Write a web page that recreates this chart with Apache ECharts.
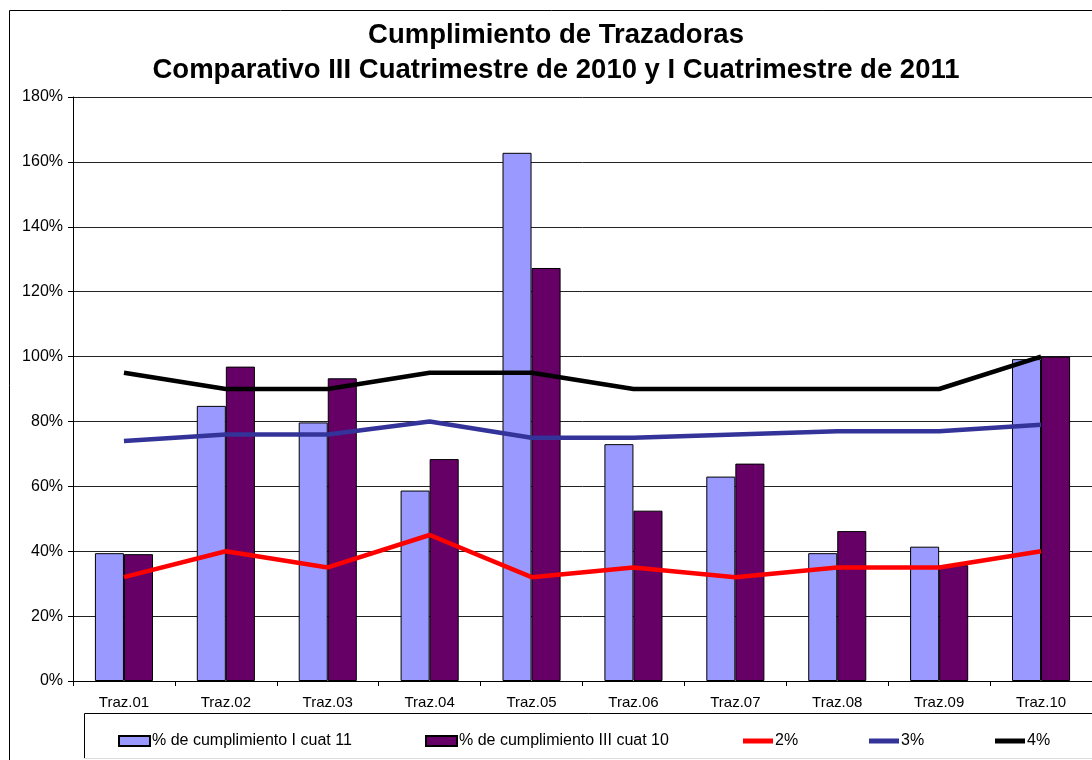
<!DOCTYPE html>
<html>
<head>
<meta charset="utf-8">
<script src="https://cdn.jsdelivr.net/npm/echarts@6/dist/echarts.min.js"></script>
<style>
  html, body { margin: 0; padding: 0; background: #fff; }
  #chart { width: 1092px; height: 760px; }
</style>
</head>
<body>
<div id="chart"></div>
<script>
// data
const categories = ['Traz.01', 'Traz.02', 'Traz.03', 'Traz.04', 'Traz.05', 'Traz.06', 'Traz.07', 'Traz.08', 'Traz.09', 'Traz.10'];
const cumplI11 = [39.4, 84.8, 79.7, 58.7, 162.8, 73.0, 63.0, 39.4, 41.4, 99.2];
const cumplIII10 = [39.1, 96.9, 93.3, 68.4, 127.3, 52.5, 67.0, 46.2, 35.7, 100];
const line2 = [32, 40, 35, 45, 32, 35, 32, 35, 35, 40];
const line3 = [74, 76, 76, 80, 75, 75, 76, 77, 77, 79];
const line4 = [95, 90, 90, 95, 95, 90, 90, 90, 90, 100];
const yTicks = [0, 20, 40, 60, 80, 100, 120, 140, 160, 180];

const names = ['% de cumplimiento I cuat 11', '% de cumplimiento III cuat 10', '2%', '3%', '4%'];
const font = 'Liberation Sans, Arial, sans-serif';

let chart = echarts.init(document.getElementById('chart'));

// one legend per item so each sits where it does in the picture
function legendAt(left, name, isLine) {
    return {
        left: left,
        top: 733,
        padding: 0,
        icon: 'rect',
        itemWidth: isLine ? 30 : 31,
        itemHeight: isLine ? 5 : 10,
        selectedMode: false,
        data: [name],
        textStyle: { fontFamily: font, fontSize: 16, color: '#000', padding: [0, 0, 0, -3] }
    };
}

chart.setOption({
    animation: false,
    title: {
        text: 'Cumplimiento de Trazadoras\nComparativo III Cuatrimestre de 2010 y I Cuatrimestre de 2011',
        left: 556,
        top: 18,
        padding: 0,
        textAlign: 'center',
        textStyle: { fontFamily: font, fontSize: 27.5, fontWeight: 'bold', color: '#000', lineHeight: 35 }
    },
    graphic: [
        // outer chart frame
        { type: 'polyline', shape: { points: [[9.5, 770], [9.5, 10.5], [1100, 10.5]] }, style: { stroke: '#000', lineWidth: 1, fill: null }, silent: true },
        // legend box
        { type: 'polyline', shape: { points: [[84.5, 758], [84.5, 713.5], [1100, 713.5]] }, style: { stroke: '#000', lineWidth: 1, fill: null }, silent: true },
        { type: 'line', shape: { x1: 84, y1: 758.5, x2: 1100, y2: 758.5 }, style: { stroke: '#ddd', lineWidth: 1 }, silent: true }
    ],
    legend: [
        legendAt(118, names[0], false),
        legendAt(425, names[1], false),
        legendAt(743, names[2], true),
        legendAt(869, names[3], true),
        legendAt(995, names[4], true)
    ],
    grid: { left: 73, top: 97, width: 1020, height: 584, containLabel: false },
    xAxis: {
        type: 'category',
        data: categories,
        axisLine: { lineStyle: { color: '#000', width: 1 } },
        axisTick: { show: true, length: 5, lineStyle: { color: '#000' } },
        axisLabel: { fontFamily: font, fontSize: 15, color: '#000', margin: 14 }
    },
    yAxis: {
        type: 'value',
        min: yTicks[0],
        max: yTicks[yTicks.length - 1],
        interval: 20,
        axisLine: { show: true, lineStyle: { color: '#000', width: 1 } },
        axisTick: { show: true, length: 5, lineStyle: { color: '#000' } },
        axisLabel: { fontFamily: font, fontSize: 16, color: '#000', margin: 10, formatter: '{value}%' },
        splitLine: { lineStyle: { color: '#222', width: 1 } }
    },
    series: [
        {
            name: names[0],
            type: 'bar',
            data: cumplI11,
            barGap: '0%',
            barCategoryGap: '43%',
            itemStyle: { color: '#9999FF', borderColor: '#000', borderWidth: 1 }
        },
        {
            name: names[1],
            type: 'bar',
            data: cumplIII10,
            barGap: '0%',
            barCategoryGap: '43%',
            itemStyle: { color: '#660066', borderColor: '#000', borderWidth: 1 }
        },
        {
            name: names[2],
            type: 'line',
            data: line2,
            symbol: 'none',
            z: 5,
            lineStyle: { color: '#FF0000', width: 4.5 },
            itemStyle: { color: '#FF0000', borderWidth: 0 }
        },
        {
            name: names[3],
            type: 'line',
            data: line3,
            symbol: 'none',
            z: 5,
            lineStyle: { color: '#333399', width: 4.5 },
            itemStyle: { color: '#333399', borderWidth: 0 }
        },
        {
            name: names[4],
            type: 'line',
            data: line4,
            symbol: 'none',
            z: 5,
            lineStyle: { color: '#000000', width: 4.5 },
            itemStyle: { color: '#000000', borderWidth: 0 }
        }
    ]
});

window.addEventListener('resize', function () {
    chart.resize();
});
</script>
</body>
</html>
